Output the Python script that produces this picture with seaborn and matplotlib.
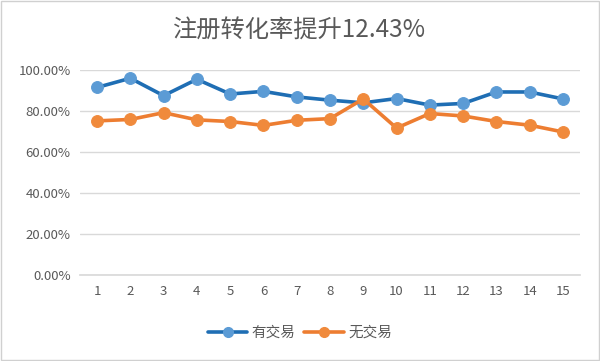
import pandas as pd
import matplotlib
matplotlib.use('Agg')
import matplotlib.pyplot as plt
import seaborn as sns
from matplotlib.ticker import PercentFormatter

# --- Data ---
days = list(range(1, 16))
with_trade = [0.915, 0.960, 0.875, 0.955, 0.883, 0.896, 0.869, 0.853, 0.840,
              0.861, 0.829, 0.837, 0.893, 0.893, 0.859]
without_trade = [0.752, 0.759, 0.792, 0.757, 0.749, 0.730, 0.755, 0.763, 0.859,
                 0.717, 0.788, 0.776, 0.749, 0.731, 0.698]
series_names = ["有交易", "无交易"]
title = "注册转化率提升12.43%"

df = pd.DataFrame({
    "day": days * 2,
    "rate": with_trade + without_trade,
    "group": [series_names[0]] * len(days) + [series_names[1]] * len(days),
})

# --- Style ---
sns.set_theme(style="white")
plt.rcParams['font.family'] = ['Noto Sans CJK SC', 'DejaVu Sans']
line_colors = ["#1F6EB4", "#ED7D31"]
marker_colors = ["#5B9BD5", "#F08A3C"]
grey_text = "#595959"

fig = plt.figure(figsize=(6, 3.61), dpi=100)
ax = fig.add_axes([0.134, 0.238, 0.832, 0.568])

sns.lineplot(data=df, x="day", y="rate", hue="group", palette=line_colors,
             marker="o", markersize=8.5, linewidth=2.6, ax=ax, legend=False)

for ln, mc in zip(ax.lines, marker_colors):
    ln.set_markerfacecolor(mc)
    ln.set_markeredgecolor(mc)

ax.set_xlim(0.5, 15.5)
ax.set_ylim(0, 1.0)
ax.set_xticks(days)
ax.set_yticks([0, 0.2, 0.4, 0.6, 0.8, 1.0])
ax.yaxis.set_major_formatter(PercentFormatter(1.0, decimals=2))
ax.tick_params(axis="both", length=0, labelsize=9.5, colors=grey_text, pad=7)
ax.set_xlabel("")
ax.set_ylabel("")
ax.grid(axis="y", color="#D9D9D9", linewidth=1)
ax.set_axisbelow(True)
for side in ["top", "right", "left"]:
    ax.spines[side].set_visible(False)
ax.spines["bottom"].set_color("#D9D9D9")
ax.spines["bottom"].set_zorder(0)

fig.text(0.5, 0.915, title, ha="center", va="center", fontsize=17.5, color=grey_text)

handles = [plt.Line2D([], [], color=lc, lw=2.6, marker="o", markersize=7,
                      markerfacecolor=mc, markeredgecolor=mc)
           for lc, mc in zip(line_colors, marker_colors)]
fig.legend(handles, series_names, loc="center", bbox_to_anchor=(0.5, 0.078),
           ncol=2, frameon=False, fontsize=10.5, handlelength=2.7,
           columnspacing=0.6, handletextpad=0.3, labelcolor=grey_text)

fig.patches.append(plt.Rectangle((0.001, 0.002), 0.997, 0.995, transform=fig.transFigure,
                                 fill=False, edgecolor="#D0D0D0", linewidth=1))

plt.savefig("out.png", dpi=100)
